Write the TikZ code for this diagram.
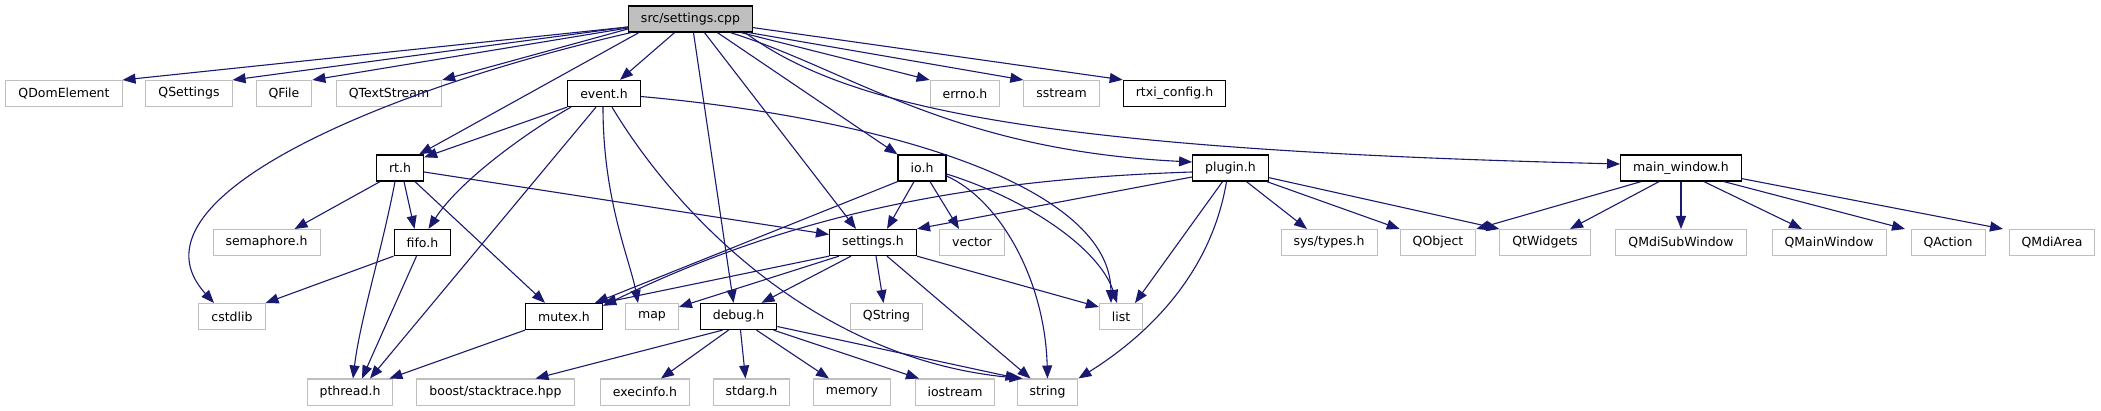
\documentclass[tikz,border=0pt]{standalone}
\usepackage{fontspec}
\setmainfont{DejaVu Sans}
\usetikzlibrary{arrows.meta}
\definecolor{depblue}{HTML}{191970}
\definecolor{extgray}{HTML}{BFBFBF}
\tikzset{
  incbox/.style={draw=black,line width=1.3pt,fill=white,minimum height=26pt,
    inner xsep=12.5pt,inner ysep=0pt,font=\fontsize{12.5}{15}\selectfont},
  extbox/.style={incbox,draw=extgray,line width=1pt},
  rootbox/.style={incbox,fill=extgray},
  dep/.style={draw=depblue,line width=1.1pt,
    -{Triangle[length=13pt,width=10pt,fill=depblue]}}
}
\begin{document}
\begin{tikzpicture}[x=1pt,y=-1pt]
\useasboundingbox (0,0) rectangle (2101,411);
% --- the file itself ---
\node[rootbox] (root) at (690.5,19) {src/settings.cpp};
% --- first level ---
\node[extbox] (qdom)  at (64,93.5)  {QDomElement};
\node[extbox] (qset)  at (189,93.5) {QSettings};
\node[extbox] (qfile) at (284,93.5) {QFile};
\node[extbox] (qtext) at (389,93.5) {QTextStream};
\node[incbox] (event) at (604,93.5) {event.h};
\node[extbox] (errno) at (965,93.5) {errno.h};
\node[extbox] (sstream) at (1061.5,93.5) {sstream};
\node[incbox] (rtxi)  at (1174.5,93.5) {rtxi\_config.h};
% --- second level ---
\node[incbox] (rt)      at (400,168)  {rt.h};
\node[incbox] (io)      at (922,168)  {io.h};
\node[incbox] (plugin)  at (1230.5,168) {plugin.h};
\node[incbox] (mainwin) at (1681,168) {main\_window.h};
% --- third level ---
\node[extbox] (sema)      at (266.5,242.5) {semaphore.h};
\node[incbox] (fifo)      at (422.5,242.5) {fifo.h};
\node[incbox] (settings)  at (873,242.5)   {settings.h};
\node[extbox] (vector)    at (972,242.5)   {vector};
\node[extbox] (systypes)  at (1329,242.5)  {sys/types.h};
\node[extbox] (qobject)   at (1438,242.5)  {QObject};
\node[extbox] (qtwidgets) at (1545,242.5)  {QtWidgets};
\node[extbox] (qmdisub)   at (1681,242.5)  {QMdiSubWindow};
\node[extbox] (qmainwin)  at (1829,242.5)  {QMainWindow};
\node[extbox] (qaction)   at (1948,242.5)  {QAction};
\node[extbox] (qmdiarea)  at (2052,242.5)  {QMdiArea};
% --- fourth level ---
\node[extbox] (cstdlib) at (232,316.5)   {cstdlib};
\node[incbox] (mutex)   at (564,316.5)   {mutex.h};
\node[extbox] (map)     at (652,316.5)   {map};
\node[incbox] (debug)   at (738.5,316.5) {debug.h};
\node[extbox] (qstring) at (886.5,316.5) {QString};
\node[extbox] (list)    at (1121,316.5)  {list};
% --- bottom row ---
\node[extbox] (pthread)  at (350,392)    {pthread.h};
\node[extbox] (boost)    at (495.5,392)  {boost/stacktrace.hpp};
\node[extbox] (execinfo) at (645,392)    {execinfo.h};
\node[extbox] (stdarg)   at (751.5,392)  {stdarg.h};
\node[extbox] (memory)   at (852,392)    {memory};
\node[extbox] (iostream) at (955,392)    {iostream};
\node[extbox] (string)   at (1047.5,392) {string};
% --- includes of settings.cpp ---
\foreach \n/\s in {qdom/-8,qset/-8,qfile/-9,qtext/-10}
  \draw[dep] ([yshift=\s pt]root.west) -- (\n.north east);
\draw[dep] ([xshift=-16pt]root.south) -- ([xshift=16pt]event.north);
\draw[dep] ([xshift=11pt]root.south west) -- ([xshift=-5pt]rt.north east);
\draw[dep] ([xshift=3pt]root.south west) .. controls (380,90) and (120,200) .. ([xshift=-18pt]cstdlib.north);
\draw[dep] ([xshift=3pt]root.south) -- ([xshift=-5pt]debug.north);
\draw[dep] ([xshift=14pt]root.south) -- ([xshift=-17pt]settings.north);
\draw[dep] ([xshift=27pt]root.south) -- (io.north west);
\draw[dep] ([xshift=40pt]root.south) .. controls (850,70) and (950,150) .. ([yshift=6pt]plugin.west);
\draw[dep] ([xshift=-8pt]root.south east) .. controls (850,110) and (1050,150) .. ([yshift=4pt]mainwin.west);
\draw[dep] ([xshift=-12pt]root.south east) -- (errno.north west);
\draw[dep] ([xshift=-4pt]root.south east) -- (sstream.north west);
\draw[dep] ([yshift=5pt]root.south east) -- (rtxi.north west);
% --- event.h ---
\draw[dep] (event.south west) -- ([yshift=-3pt]rt.north east);
\draw[dep] ([xshift=-33pt]event.south) .. controls (530,130) and (460,180) .. ([xshift=6pt]fifo.north);
\draw[dep] ([xshift=-8pt]event.south) -- ([xshift=20pt]pthread.north);
\draw[dep] ([xshift=-1pt]event.south) .. controls (603,200) and (630,260) .. ([xshift=-14pt]map.north);
\draw[dep] ([xshift=8pt]event.south) .. controls (680,220) and (820,360) .. ([xshift=-25pt]string.north);
\draw[dep] ([yshift=-3pt]event.east) .. controls (900,120) and (1110,190) .. ([xshift=-10pt]list.north);
% --- rt.h ---
\draw[dep] ([xshift=-20pt]rt.south) -- ([xshift=28pt]sema.north);
\draw[dep] ([xshift=4pt]rt.south) -- ([xshift=-8pt]fifo.north);
\draw[dep] ([xshift=-5pt]rt.south) .. controls (382,250) and (360,320) .. ([xshift=3pt]pthread.north);
\draw[dep] ([xshift=15pt]rt.south) -- ([xshift=-19pt]mutex.north);
\draw[dep] ([yshift=-4pt]rt.east) -- ([yshift=8pt]settings.west);
% --- fifo.h and mutex.h ---
\draw[dep] (fifo.south west) -- (cstdlib.north east);
\draw[dep] ([xshift=-6pt]fifo.south) -- ([xshift=12pt]pthread.north);
\draw[dep] (mutex.south west) -- ([xshift=-4pt]pthread.north east);
% --- io.h ---
\draw[dep] ([xshift=-8pt]io.south) -- ([xshift=14pt]settings.north);
\draw[dep] ([xshift=8pt]io.south) -- ([xshift=-13pt]vector.north);
\draw[dep] (io.south west) -- ([xshift=-8pt]mutex.north east);
\draw[dep] ([yshift=-8pt]io.east) .. controls (1000,200) and (1045,280) .. (string.north);
\draw[dep] ([yshift=-6pt]io.east) .. controls (1030,200) and (1100,250) .. ([xshift=-4pt]list.north);
% --- plugin.h ---
\draw[dep] ([yshift=-9pt]plugin.west) -- (settings.north east);
\draw[dep] ([yshift=-4pt]plugin.west) .. controls (950,180) and (780,220) .. ([yshift=-3pt]mutex.north east);
\draw[dep] ([xshift=16pt]plugin.south) -- ([xshift=-22pt]systypes.north);
\draw[dep] ([xshift=-2pt]plugin.south east) -- (qobject.north west);
\draw[dep] ([yshift=4pt]plugin.south east) -- (qtwidgets.north west);
\draw[dep] ([xshift=-8pt]plugin.south) -- ([xshift=14pt]list.north);
\draw[dep] ([xshift=-4pt]plugin.south) .. controls (1210,280) and (1140,340) .. (string.north east);
% --- settings.h ---
\draw[dep] (settings.south west) -- (mutex.north east);
\draw[dep] ([xshift=10pt]settings.south west) -- ([yshift=-4pt]map.north east);
\draw[dep] ([xshift=22pt]settings.south west) -- ([xshift=23pt]debug.north);
\draw[dep] ([xshift=3pt]settings.south) -- ([xshift=-3pt]qstring.north);
\draw[dep] ([xshift=14pt]settings.south) -- ([xshift=-17pt]string.north);
\draw[dep] (settings.south east) -- ([yshift=-4pt]list.north west);
% --- debug.h ---
\draw[dep] ([xshift=-16pt]debug.south) -- ([xshift=40pt]boost.north);
\draw[dep] ([xshift=-10pt]debug.south) -- ([xshift=16pt]execinfo.north);
\draw[dep] ([xshift=2pt]debug.south) -- ([xshift=-6pt]stdarg.north);
\draw[dep] ([xshift=18pt]debug.south) -- ([xshift=-23pt]memory.north);
\draw[dep] ([xshift=35pt]debug.south) -- ([xshift=-36pt]iostream.north);
\draw[dep] ([yshift=-10pt]debug.east) -- ([xshift=2pt]string.north west);
% --- main_window.h ---
\draw[dep] ([xshift=-40pt]mainwin.south) -- (qobject.north east);
\draw[dep] ([xshift=-22pt]mainwin.south) -- ([xshift=25pt]qtwidgets.north);
\draw[dep] (mainwin.south) -- (qmdisub.north);
\draw[dep] ([xshift=23pt]mainwin.south) -- ([xshift=-27pt]qmainwin.north);
\draw[dep] ([xshift=43pt]mainwin.south) -- ([xshift=-43pt]qaction.north);
\draw[dep] ([yshift=3pt]mainwin.south east) -- ([xshift=-49pt]qmdiarea.north);
\end{tikzpicture}
\end{document}
